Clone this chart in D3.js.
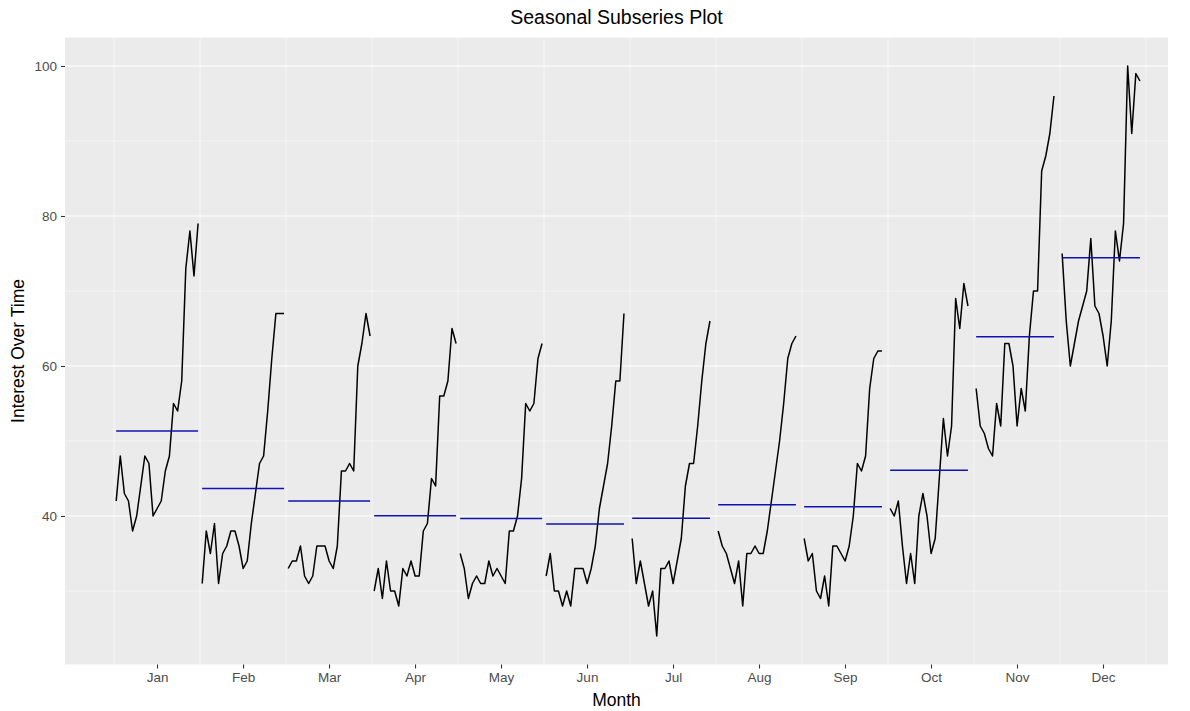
<!DOCTYPE html>
<html>
<head>
<meta charset="utf-8">
<script src="https://cdn.jsdelivr.net/npm/d3@7"></script>
<style>
  body { margin: 0; background: #fff; }
  text { font-family: "Liberation Sans", Arial, sans-serif; }
</style>
</head>
<body>
<div id="chart"></div>
<script>
// month labels
const months = ["Jan", "Feb", "Mar", "Apr", "May", "Jun", "Jul", "Aug", "Sep", "Oct", "Nov", "Dec"];

// one value per year, oldest first
const jan = [42, 48, 43, 42, 38, 40, 44, 48, 47, 40, 41, 42, 46, 48, 55, 54, 58, 73, 78, 72, 79];
const feb = [31, 38, 35, 39, 31, 35, 36, 38, 38, 36, 33, 34, 39, 43, 47, 48, 54, 61, 67, 67, 67];
const mar = [33, 34, 34, 36, 32, 31, 32, 36, 36, 36, 34, 33, 36, 46, 46, 47, 46, 60, 63, 67, 64];
const apr = [30, 33, 29, 34, 30, 30, 28, 33, 32, 34, 32, 32, 38, 39, 45, 44, 56, 56, 58, 65, 63];
const may = [35, 33, 29, 31, 32, 31, 31, 34, 32, 33, 32, 31, 38, 38, 40, 45, 55, 54, 55, 61, 63];
const jun = [32, 35, 30, 30, 28, 30, 28, 33, 33, 33, 31, 33, 36, 41, 44, 47, 52, 58, 58, 67];
const jul = [37, 31, 34, 31, 28, 30, 24, 33, 33, 34, 31, 34, 37, 44, 47, 47, 52, 58, 63, 66];
const aug = [38, 36, 35, 33, 31, 34, 28, 35, 35, 36, 35, 35, 38, 42, 46, 50, 55, 61, 63, 64];
const sep = [37, 34, 35, 30, 29, 32, 28, 36, 36, 35, 34, 36, 40, 47, 46, 48, 57, 61, 62, 62];
const oct = [41, 40, 42, 36, 31, 35, 31, 40, 43, 40, 35, 37, 45, 53, 48, 52, 69, 65, 71, 68];
const nov = [57, 52, 51, 49, 48, 55, 52, 63, 63, 60, 52, 57, 54, 64, 70, 70, 86, 88, 91, 96];
const dec = [75, 66, 60, 63, 66, 68, 70, 77, 68, 67, 64, 60, 66, 78, 74, 79, 100, 91, 99, 98];

const yTicks = [40, 60, 80, 100];
const yMinor = [30, 50, 70, 90];

const series = [jan, feb, mar, apr, may, jun, jul, aug, sep, oct, nov, dec];

// spread the years across each month like ggsubseriesplot does
const nYears = d3.max(series, s => s.length);
const seasonWidth = (nYears - 1) * 1.05;

const data = series.map((vals, m) => {
    const pts = vals.map((v, j) => ({ t: m + 1 + 0.025 + j / seasonWidth, v: v }));
    return { month: months[m], pts: pts, avg: d3.mean(vals) };
});

const width = 1190, height = 711;
const margin = { top: 37.5, right: 22, bottom: 46.5, left: 65 };

const svg = d3.select("#chart").append("svg")
    .attr("width", width)
    .attr("height", height);

const allT = data.flatMap(d => d.pts.map(p => p.t));
const allV = data.flatMap(d => d.pts.map(p => p.v));
const tExt = d3.extent(allT), vExt = d3.extent(allV);
const vPad = (vExt[1] - vExt[0]) * 0.05;

const x = d3.scaleLinear()
    .domain([tExt[0] - (tExt[1] - tExt[0]) * 0.05, 13.256])
    .range([margin.left, width - margin.right]);

const y = d3.scaleLinear()
    .domain([vExt[0] - vPad, vExt[1] + vPad])
    .range([height - margin.bottom, margin.top]);

// panel
svg.append("rect")
    .attr("x", margin.left)
    .attr("y", margin.top)
    .attr("width", width - margin.left - margin.right)
    .attr("height", height - margin.top - margin.bottom)
    .attr("fill", "#ebebeb");

let grid = svg.append("g");

grid.selectAll(".ymin").data(yMinor).enter().append("line")
    .attr("x1", margin.left).attr("x2", width - margin.right)
    .attr("y1", d => y(d)).attr("y2", d => y(d))
    .attr("stroke", "#fff").attr("stroke-width", 0.55);

grid.selectAll(".ymaj").data(yTicks).enter().append("line")
    .attr("x1", margin.left).attr("x2", width - margin.right)
    .attr("y1", d => y(d)).attr("y2", d => y(d))
    .attr("stroke", "#fff").attr("stroke-width", 1.1);

// month boundaries
grid.selectAll(".xmin").data(d3.range(1, 14)).enter().append("line")
    .attr("x1", d => x(d)).attr("x2", d => x(d))
    .attr("y1", margin.top).attr("y2", height - margin.bottom)
    .attr("stroke", "#fff").attr("stroke-width", 0.55);

const line = d3.line().x(p => x(p.t)).y(p => y(p.v));

svg.append("g").selectAll("path")
    .data(data)
    .enter()
    .append("path")
    .attr("d", d => line(d.pts))
    .attr("fill", "none")
    .attr("stroke", "#000")
    .attr("stroke-width", 1.5)
    .attr("stroke-linejoin", "round");

// mean of each month
svg.append("g").selectAll("line")
    .data(data)
    .enter()
    .append("line")
    .attr("x1", d => x(d.pts[0].t))
    .attr("x2", d => x(d.pts[d.pts.length - 1].t))
    .attr("y1", d => y(d.avg))
    .attr("y2", d => y(d.avg))
    .attr("stroke", "#1212b4")
    .attr("stroke-width", 1.5);

// axes
const xAxis = d3.axisBottom(x)
    .tickValues(months.map((m, i) => i + 1.5))
    .tickFormat((d, i) => months[i])
    .tickSize(4).tickPadding(4);

const yAxis = d3.axisLeft(y)
    .tickValues(yTicks)
    .tickSize(4).tickPadding(4);

let gx = svg.append("g")
    .attr("transform", "translate(0," + (height - margin.bottom) + ")")
    .call(xAxis);
let gy = svg.append("g")
    .attr("transform", "translate(" + margin.left + ",0)")
    .call(yAxis);

[gx, gy].forEach(g => {
    g.select(".domain").remove();
    g.selectAll(".tick line").attr("stroke", "#333").attr("stroke-width", 1.1);
    g.selectAll(".tick text")
        .attr("fill", "#4d4d4d")
        .style("font-size", "13.5px")
        .style("font-family", "Liberation Sans, Arial, sans-serif");
});

const cx = (margin.left + width - margin.right) / 2;

svg.append("text")
    .attr("x", cx)
    .attr("y", 24)
    .attr("text-anchor", "middle")
    .style("font-size", "19.5px")
    .text("Seasonal Subseries Plot");

svg.append("text")
    .attr("x", cx)
    .attr("y", 706)
    .attr("text-anchor", "middle")
    .style("font-size", "17.5px")
    .text("Month");

svg.append("text")
    .attr("transform", "translate(24," + ((margin.top + height - margin.bottom) / 2) + ") rotate(-90)")
    .attr("text-anchor", "middle")
    .style("font-size", "17.5px")
    .text("Interest Over Time");
</script>
</body>
</html>
